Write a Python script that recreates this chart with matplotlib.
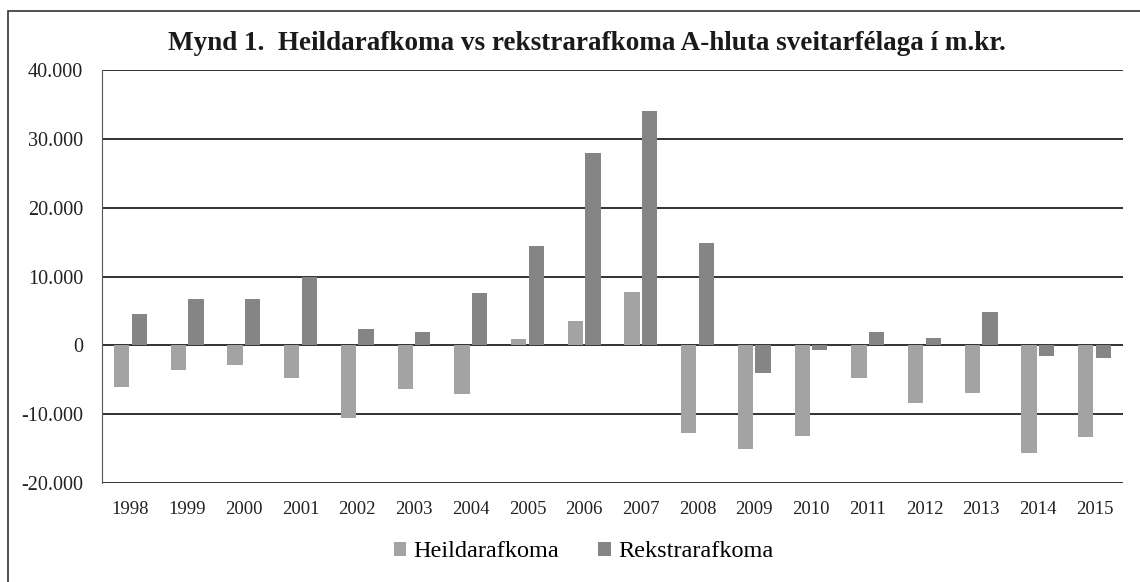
import numpy as np
import matplotlib.pyplot as plt
from matplotlib.patches import Rectangle
from matplotlib.ticker import FuncFormatter

years = ['1998', '1999', '2000', '2001', '2002', '2003', '2004', '2005', '2006',
         '2007', '2008', '2009', '2010', '2011', '2012', '2013', '2014', '2015']
heildar = [-6100, -3600, -2800, -4800, -10500, -6300, -7000, 900, 3600,
           7800, -12700, -15000, -13100, -4750, -8400, -6900, -15700, -13300]
rekstrar = [4600, 6700, 6700, 9900, 2400, 1900, 7600, 14400, 27950,
            34100, 14900, -4000, -600, 2000, 1100, 4850, -1500, -1800]

plt.rcParams['font.family'] = ['Liberation Serif', 'DejaVu Serif']

fig = plt.figure(figsize=(11.4, 5.82), dpi=100)
ax = fig.add_axes([0.0895, 0.170, 0.8955, 0.7097])

x = np.arange(len(years))
w = 0.27
ax.bar(x - w / 2 - 0.02, heildar, w, color='#a3a3a3', label='Heildarafkoma', zorder=3)
ax.bar(x + w / 2 + 0.02, rekstrar, w, color='#858585', label='Rekstrarafkoma', zorder=3)

ax.set_xlim(-0.5, len(years) - 0.5)
ax.set_ylim(-20000, 40000)
ax.set_yticks(np.arange(-20000, 40001, 10000))
ax.yaxis.set_major_formatter(FuncFormatter(lambda v, p: f'{int(v):,}'.replace(',', '.')))
ax.set_xticks(x)
ax.set_xticklabels(years)
ax.tick_params(length=0, colors='#222222')
ax.tick_params(axis='x', labelsize=13.5, pad=13)
ax.tick_params(axis='y', labelsize=14.5, pad=13.5)
ax.grid(axis='y', color='#222222', linewidth=1.3, zorder=1)
for s in ['top', 'right', 'bottom']:
    ax.spines[s].set_visible(False)
ax.spines['left'].set_color('#555555')
ax.spines['left'].set_linewidth(0.8)

fig.text(0.515, 0.925, 'Mynd 1.  Heildarafkoma vs rekstrarafkoma A-hluta sveitarfélaga í m.kr.',
         ha='center', va='center', fontsize=19.5, fontweight='bold', color='#1a1a1a')

fig.legend(loc='center', bbox_to_anchor=(0.512, 0.052), ncol=2, frameon=False,
           fontsize=17.5, handlelength=0.5, handleheight=0.5, columnspacing=1.6,
           handletextpad=0.3)

fig.patches.append(Rectangle((8 / 1140, -0.05), 1.2, 1 - 11 / 582 + 0.05,
                             transform=fig.transFigure, fill=False,
                             edgecolor='#333333', linewidth=1.2))

fig.savefig('out.png', dpi=100)
